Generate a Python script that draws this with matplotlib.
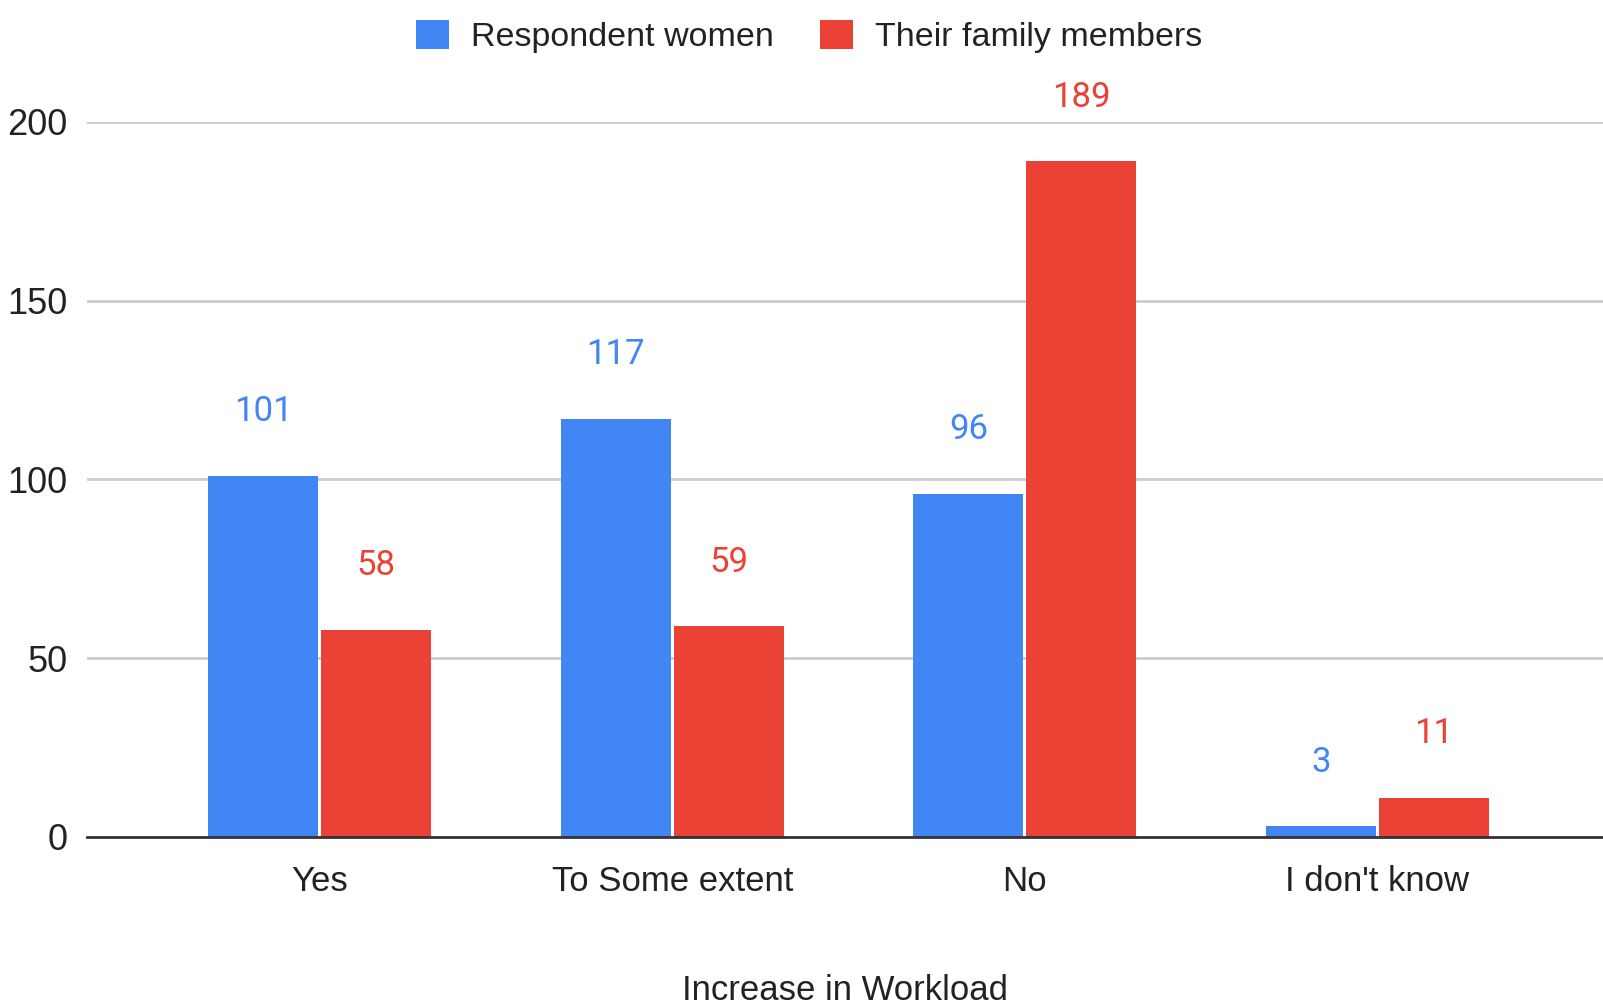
import matplotlib
matplotlib.use("Agg")
import matplotlib.pyplot as plt
import numpy as np

categories = ["Yes", "To Some extent", "No", "I don't know"]
women = [101, 117, 96, 3]
family = [58, 59, 189, 11]
series_names = ["Respondent women", "Their family members"]
blue = "#4285F4"
red = "#EA4335"

plt.rcParams['font.family'] = ['Liberation Sans', 'DejaVu Sans']

fig = plt.figure(figsize=(16.03, 10.06), dpi=100)
ax = fig.add_axes([0.0543, 0.168, 0.9457, 0.711])

x = np.arange(len(categories))
w = 0.312
gap = 0.004
b1 = ax.bar(x - w/2 - gap, women, w, color=blue, label=series_names[0], zorder=3)
b2 = ax.bar(x + w/2 + gap, family, w, color=red, label=series_names[1], zorder=3)

for bars, col in ((b1, blue), (b2, red)):
    for r in bars:
        ax.annotate(f"{int(r.get_height())}", (r.get_x() + r.get_width()/2, r.get_height()),
                    xytext=(0, 46), textcoords="offset points", ha="center", va="center",
                    fontsize=25, color=col, family=["Roboto", "DejaVu Sans"],
                    annotation_clip=False)

ax.set_xlim(-0.66, 3.64)
ax.set_ylim(0, 200)
ax.set_yticks([0, 50, 100, 150, 200])
ax.set_xticks(x)
ax.set_xticklabels(categories)
ax.grid(axis="y", color="#cccccc", linewidth=2, zorder=0)
ax.tick_params(axis="y", length=0, pad=14, labelsize=26, labelcolor="#222222")
ax.tick_params(axis="x", length=0, pad=20, labelsize=25, labelcolor="#222222")
for s in ("top", "right", "left"):
    ax.spines[s].set_visible(False)
ax.spines["bottom"].set_color("#333333")
ax.spines["bottom"].set_linewidth(2)
ax.spines["bottom"].set_zorder(4)

ax.set_xlabel("Increase in Workload", fontsize=25, color="#222222", labelpad=55)

fig.legend(loc="upper center", bbox_to_anchor=(0.505, 1.011), ncol=2, frameon=False,
           fontsize=24.5, handlelength=0.97, handleheight=0.97, columnspacing=1.35,
           handletextpad=0.65, labelcolor="#222222")

fig.savefig("out.png", dpi=100)
